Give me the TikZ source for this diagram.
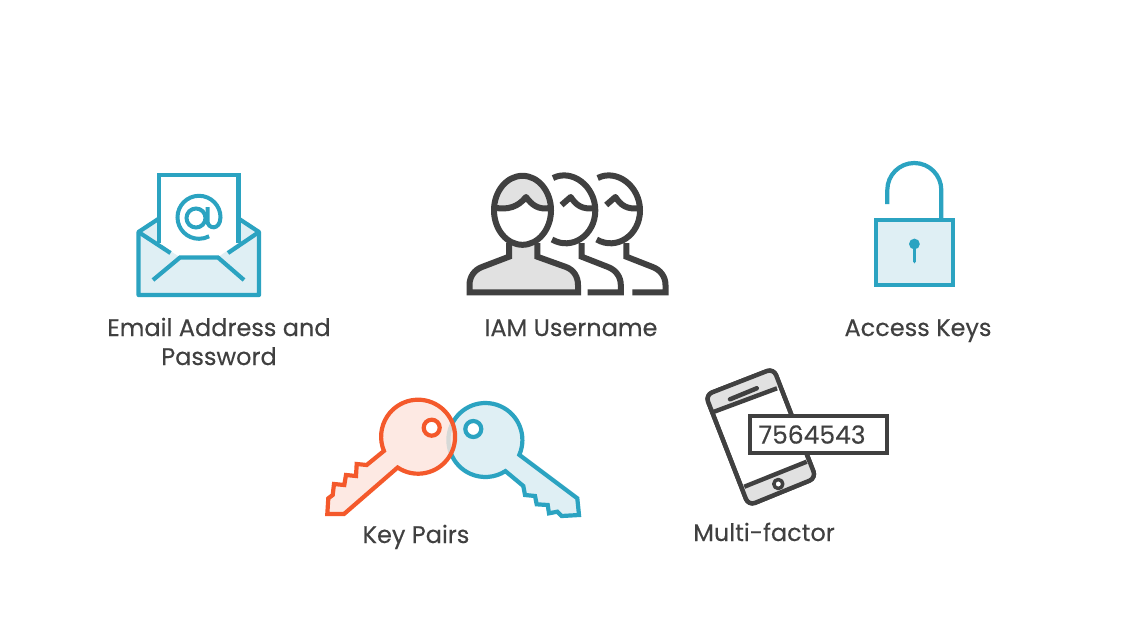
\documentclass[tikz,border=0pt]{standalone}
\usepackage{fontspec}
\setmainfont[FakeBold=0.25]{Poppins}
\definecolor{tealc}{HTML}{2BA3C1}
\definecolor{teall}{HTML}{DFEFF4}
\definecolor{orangec}{HTML}{F4592B}
\definecolor{orangel}{HTML}{FDE5DD}
\definecolor{darkc}{HTML}{404040}
\definecolor{grayl}{HTML}{E1E1E1}
\tikzset{
  lbl/.style={text=darkc,font=\fontsize{24}{24}\selectfont,anchor=base,inner sep=0pt},
  tl/.style={draw=tealc,line width=4.2pt,line join=miter},
  ol/.style={draw=orangec,line width=4.2pt,line join=miter},
  dk/.style={draw=darkc,line width=6pt,line join=round},
  ph/.style={draw=darkc,line width=4.4pt,line join=round}
}
\newcommand{\peerhead}[1]{%
  \begin{scope}[xshift=#1pt]
    \draw[dk] (553,178) .. controls (572,168.5) and (595.3,186) .. (595.3,210.5) .. controls (595.3,235) and (572,251) .. (552,239.5);
    \draw[dk] (561.5,205) -- (570.7,197) .. controls (576,205) and (582,210) .. (595,208);
    \draw[dk,line join=miter] (581.7,243) -- (581.7,256.7) -- (608,267) .. controls (616,270) and (620.8,277) .. (620.8,285) -- (620.8,292.3) -- (587.7,292.3);
  \end{scope}}
\begin{document}
\begin{tikzpicture}[x=1pt,y=1pt,yscale=-1]
\useasboundingbox (0,0) rectangle (1135,638);
\fill[white] (0,0) rectangle (1135,638);
% email
\fill[teall] (139,232) -- (158,219) -- (238,219) -- (259,232) -- (259,293) -- (139,293) -- cycle;
\fill[white] (158,176) -- (238,176) -- (238,243) -- (218,257) -- (180,257) -- (158,243) -- cycle;
\draw[tl] (159,243) -- (159,175) -- (238.5,175) -- (238.5,243);
\draw[tl,line join=round] (159,218.5) -- (138.5,232) -- (138.5,295) -- (259,295) -- (259,232) -- (238.5,218.5);
\draw[tl] (138.5,232) -- (170.5,253);
\draw[tl] (259,232) -- (228,253);
\draw[tl] (153,280) -- (180,257.5) -- (218,257.5) -- (244,280);
\draw[tl,line width=4pt] (196,218) circle[radius=9.5pt];
\draw[tl,line width=4pt] (207.5,207) -- (207.5,221) .. controls (207.5,229) and (220,231) .. (220.5,217.3) arc[start angle=0,end angle=-298,radius=21.5pt];
% users
\peerhead{0}
\peerhead{44.7}
\draw[dk,fill=grayl,line join=miter] (509,243) -- (509,256.7) -- (482,267) .. controls (474,270) and (469.5,277) .. (469.5,285) -- (469.5,292.3) -- (578,292.3) -- (578,285) .. controls (578,277) and (574,270) .. (566,267) -- (537.3,256.7) -- (537.3,243);
\path[fill=white] (522.5,210.3) ellipse[x radius=28.5pt,y radius=34.5pt];
\begin{scope}
  \clip (522.5,210.3) ellipse[x radius=28.5pt,y radius=34.5pt];
  \fill[grayl] (490,208) .. controls (508,211) and (518,207) .. (526,197) .. controls (532,205) and (538,210) .. (555,208) -- (555,170) -- (490,170) -- cycle;
\end{scope}
\draw[dk] (495,207.8) .. controls (508,210) and (518,207) .. (526,197) .. controls (532,205) and (538,210) .. (550,208);
\draw[dk] (522.5,210.3) ellipse[x radius=28.5pt,y radius=34.5pt];
% lock
\draw[tl,line width=4.2pt,fill=teall] (876,220) rectangle (953,285);
\draw[tl,line width=4.2pt] (887.3,204) -- (887.3,190) arc[start angle=180,end angle=360,radius=27pt] -- (941.3,220);
\fill[tealc] (914.4,244) circle[radius=5.4pt];
\draw[tl,line width=3.6pt,line cap=round] (914.4,244) -- (914.4,261.5);
% blue key
\draw[tl,fill=teall] (485.4,440) ++(23.6:37) arc[start angle=23.6,end angle=-302.8,radius=37pt] -- (523.3,486) -- (525,495) -- (535,496) -- (536.7,504.3) -- (547.7,505) -- (549,513.3) -- (557.3,511.7) -- (561.7,516) -- (579,515) -- (577.3,498.3) -- cycle;
\draw[draw=tealc,line width=4.2pt,fill=white] (473.3,429) circle[radius=8pt];
% orange key
\path[fill=orangel,fill opacity=.82] (418.1,436.7) ++(123.6:37) arc[start angle=123.6,end angle=-202.6,radius=37pt] -- (366.7,465) -- (356.7,464) -- (356,476) -- (346,475) -- (344.3,485) -- (334,484) -- (332.7,495) -- (328.3,498.3) -- (327.3,514) -- (344,514) -- cycle;
\draw[ol] (418.1,436.7) ++(123.6:37) arc[start angle=123.6,end angle=-202.6,radius=37pt] -- (366.7,465) -- (356.7,464) -- (356,476) -- (346,475) -- (344.3,485) -- (334,484) -- (332.7,495) -- (328.3,498.3) -- (327.3,514) -- (344,514) -- cycle;
\draw[ol,fill=white] (431.7,427.7) circle[radius=8pt];
% phone
\draw[ph,fill=white,rounded corners=7pt] (705.5,395) -- (773.5,368.5) -- (816,478) -- (748.5,505.5) -- cycle;
\begin{scope}
\clip[rounded corners=7pt] (705.5,395) -- (773.5,368.5) -- (816,478) -- (748.5,505.5) -- cycle;
\fill[grayl] (700,390) -- (778,360) -- (778,388) -- (713.3,412) -- cycle;
\fill[grayl] (744.3,486.7) -- (806.7,461.7) -- (830,480) -- (749.3,520) -- cycle;
\end{scope}
\draw[ph,rounded corners=7pt] (705.5,395) -- (773.5,368.5) -- (816,478) -- (748.5,505.5) -- cycle;
\draw[ph] (713.3,412) -- (777,388.3);
\draw[ph] (744.3,486.7) -- (806.7,461.7);
\draw[ph,line width=4.5pt,line cap=round] (730,399.3) -- (756.7,388.3);
\draw[ph,line width=3.5pt,fill=white] (778.3,484) circle[radius=4.5pt];
\node[draw=darkc,line width=4pt,fill=white,minimum width=137pt,minimum height=36.7pt,inner sep=0pt,anchor=center] (codebox) at (818.8,434.7) {};
\node[lbl,font=\fontsize{25}{25}\selectfont] (code) at (812,443.7) {7564543};
% labels
\node[lbl] (l1) at (219,336) {Email Address and};
\node[lbl] (l2) at (219,365) {Password};
\node[lbl] (l3) at (571,336) {IAM Username};
\node[lbl] (l4) at (918,336) {Access Keys};
\node[lbl] (l5) at (416,543) {Key Pairs};
\node[lbl] (l6) at (764,541) {Multi-factor};
\end{tikzpicture}
\end{document}
